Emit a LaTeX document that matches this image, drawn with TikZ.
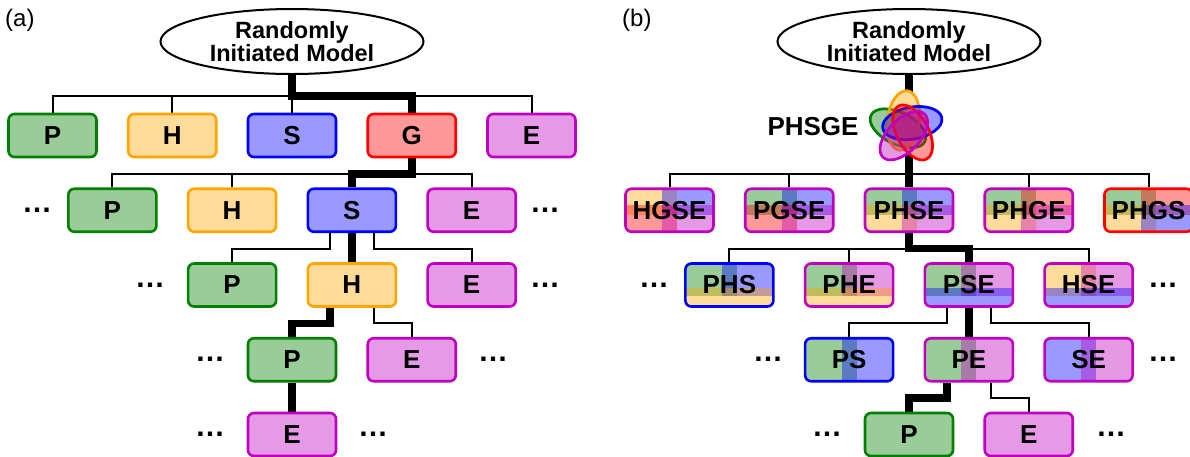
\documentclass[tikz,border=0pt]{standalone}
\usepackage{fontspec}
\setmainfont{Liberation Sans}
\usetikzlibrary{shapes.geometric,backgrounds}

\definecolor{cP}{RGB}{0,128,0}
\definecolor{cH}{RGB}{255,165,0}
\definecolor{cS}{RGB}{0,0,255}
\definecolor{cG}{RGB}{255,0,0}
\definecolor{cE}{RGB}{192,0,192}

\tikzset{
  conn/.style={line width=2pt},
  hot/.style={line width=7.5pt, line join=miter},
  root/.style={draw, ellipse, line width=2pt, minimum width=263pt, minimum height=65pt, inner sep=0pt},
  roottxt/.style={align=center, inner sep=0pt, font=\fontsize{23.5}{22.5}\selectfont\bfseries},
  cbox/.style={rectangle, rounded corners=6pt, minimum width=88pt, minimum height=43pt,
               line width=2.6pt, inner sep=0pt, font=\fontsize{26}{26}\selectfont\bfseries},
  pbox/.style={cbox, draw=#1, fill=#1!40},
  more/.style={anchor=base, inner sep=0pt, font=\fontsize{30}{30}\selectfont\bfseries},
  panel/.style={anchor=base west, inner sep=0pt, font=\fontsize{24}{24}\selectfont},
  patch/.style={fill=#1, fill opacity=.4},
}

% box made of four translucent quarters: TL, BL, TR, BR
\newcommand{\fourbox}[9]{%
  \begin{scope}
    \clip[rounded corners=6pt] (#2-44,#3-21.5) rectangle (#2+44,#3+21.5);
    \fill[patch=#4] (#2-44,#3-21.5) rectangle (#2+7.5,#3+5);
    \fill[patch=#6] (#2-7.5,#3-21.5) rectangle (#2+44,#3+5);
    \fill[patch=#5] (#2-44,#3-5) rectangle (#2+7.5,#3+21.5);
    \fill[patch=#7] (#2-7.5,#3-5) rectangle (#2+44,#3+21.5);
  \end{scope}
  \node[cbox, draw=#8] (#1) at (#2,#3) {#9};}

% box with two upper halves and a bottom strip: TL, TR, bottom
\newcommand{\threebox}[8]{%
  \begin{scope}
    \clip[rounded corners=6pt] (#2-44,#3-21.5) rectangle (#2+44,#3+21.5);
    \fill[patch=#4] (#2-44,#3-21.5) rectangle (#2+7.5,#3+11);
    \fill[patch=#5] (#2-7.5,#3-21.5) rectangle (#2+44,#3+11);
    \fill[patch=#6] (#2-44,#3+2.5) rectangle (#2+44,#3+21.5);
  \end{scope}
  \node[cbox, draw=#7] (#1) at (#2,#3) {#8};}

% box split into a left and a right half
\newcommand{\twobox}[7]{%
  \begin{scope}
    \clip[rounded corners=6pt] (#2-44,#3-21.5) rectangle (#2+44,#3+21.5);
    \fill[patch=#4] (#2-44,#3-21.5) rectangle (#2+7.5,#3+21.5);
    \fill[patch=#5] (#2-7.5,#3-21.5) rectangle (#2+44,#3+21.5);
  \end{scope}
  \node[cbox, draw=#6] (#1) at (#2,#3) {#7};}

\begin{document}
\begin{tikzpicture}[x=1pt, y=-1pt]
\useasboundingbox (0,0) rectangle (1190,456);
\begin{pgfonlayer}{background}
  \fill[white] (0,0) rectangle (1190,456);
\end{pgfonlayer}

% ---------------- panel (a): sequential search ----------------
\node[panel] (la) at (5,26) {(a)};
\node[root] (ra) at (292,41.5) {};
\node[roottxt] (rat) at (ra.center) {Randomly\\Initiated Model};

\node[pbox=cP] (a1p) at (52.5,135.5) {P};
\node[pbox=cH] (a1h) at (172.25,135.5) {H};
\node[pbox=cS] (a1s) at (292,135.5) {S};
\node[pbox=cG] (a1g) at (411.75,135.5) {G};
\node[pbox=cE] (a1e) at (531.5,135.5) {E};

\node[pbox=cP] (a2p) at (112.375,210.25) {P};
\node[pbox=cH] (a2h) at (232.125,210.25) {H};
\node[pbox=cS] (a2s) at (351.875,210.25) {S};
\node[pbox=cE] (a2e) at (471.625,210.25) {E};

\node[pbox=cP] (a3p) at (232.125,285) {P};
\node[pbox=cH] (a3h) at (351.875,285) {H};
\node[pbox=cE] (a3e) at (471.625,285) {E};

\node[pbox=cP] (a4p) at (292,359.75) {P};
\node[pbox=cE] (a4e) at (411.75,359.75) {E};

\node[pbox=cE] (a5e) at (292,434.5) {E};

\node[more] (ad2l) at (37,212.35) {…};
\node[more] (ad2r) at (545,212.35) {…};
\node[more] (ad3l) at (150,287.1) {…};
\node[more] (ad3r) at (545,287.1) {…};
\node[more] (ad4l) at (210,361.85) {…};
\node[more] (ad4r) at (493,361.85) {…};
\node[more] (ad5l) at (210,436.6) {…};
\node[more] (ad5r) at (373,436.6) {…};

\begin{pgfonlayer}{background}
  \foreach \n in {a1p,a1h,a1s,a1e}
    \draw[conn] (ra.south) -- ++(0,21) -| (\n.north);
  \draw[hot] (ra.south) -- ++(0,21) -| (a1g.north);

  \foreach \n in {a2p,a2h,a2e}
    \draw[conn] (a1g.south) -- ++(0,15.5) -| (\n.north);
  \draw[hot] (a1g.south) -- ++(0,15.5) -| (a2s.north);

  \draw[conn] ([xshift=-22pt]a2s.south) -- ++(0,15.5) -| (a3p.north);
  \draw[conn] ([xshift=22pt]a2s.south) -- ++(0,15.5) -| (a3e.north);
  \draw[hot] (a2s.south) -- (a3h.north);

  \draw[hot] ([xshift=-22pt]a3h.south) -- ++(0,15.5) -| (a4p.north);
  \draw[conn] ([xshift=22pt]a3h.south) -- ++(0,15.5) -| (a4e.north);

  \draw[hot] (a4p.south) -- (a5e.north);
\end{pgfonlayer}

% ---------------- panel (b): combined search ----------------
\node[panel] (lb) at (622,26) {(b)};
\node[root] (rb) at (909,41.5) {};
\node[roottxt] (rbt) at (rb.center) {Randomly\\Initiated Model};

% five-set flower of all components
\coordinate (fl) at (906,128);
\foreach \ang in {182,110,38,326,254}
  \fill[white, shift={({906+8*cos(\ang)},{128-8*sin(\ang)})}, rotate=\ang-28]
    (0,0) ellipse [x radius=30, y radius=16];
\foreach \col/\ang in {cP/182,cH/110,cS/38,cG/326,cE/254}
  \draw[\col, fill=\col, fill opacity=.4, line width=2.7pt,
        shift={({906+8*cos(\ang)},{128-8*sin(\ang)})}, rotate=\ang-28]
    (0,0) ellipse [x radius=30, y radius=16];
\node[font=\fontsize{26}{26}\selectfont\bfseries, inner sep=0pt] (fll) at (813,127) {PHSGE};

\fourbox{b1a}{669.5}{210.25}{cH}{cG}{cS}{cE}{cE}{HGSE}
\fourbox{b1b}{789.25}{210.25}{cP}{cG}{cS}{cE}{cE}{PGSE}
\fourbox{b1c}{909}{210.25}{cP}{cH}{cS}{cE}{cE}{PHSE}
\fourbox{b1d}{1028.75}{210.25}{cP}{cH}{cG}{cE}{cE}{PHGE}
\fourbox{b1e}{1148.5}{210.25}{cP}{cH}{cG}{cS}{cG}{PHGS}

\threebox{b2a}{729.375}{285}{cP}{cS}{cH}{cS}{PHS}
\threebox{b2b}{849.125}{285}{cP}{cE}{cH}{cE}{PHE}
\threebox{b2c}{968.875}{285}{cP}{cE}{cS}{cE}{PSE}
\threebox{b2d}{1088.625}{285}{cH}{cE}{cS}{cE}{HSE}

\twobox{b3a}{849.125}{359.75}{cP}{cS}{cS}{PS}
\twobox{b3b}{968.875}{359.75}{cP}{cE}{cE}{PE}
\twobox{b3c}{1088.625}{359.75}{cS}{cE}{cE}{SE}

\node[pbox=cP] (b4p) at (909,434.5) {P};
\node[pbox=cE] (b4e) at (1028.75,434.5) {E};

\node[more] (bd2l) at (654,287.1) {…};
\node[more] (bd2r) at (1163,287.1) {…};
\node[more] (bd3l) at (768,361.85) {…};
\node[more] (bd3r) at (1163,361.85) {…};
\node[more] (bd4l) at (827,436.6) {…};
\node[more] (bd4r) at (1111,436.6) {…};

\begin{pgfonlayer}{background}
  \foreach \n in {b1a,b1b,b1d,b1e}
    \draw[conn] (rb.south) -- ++(0,98.75) -| (\n.north);
  \draw[hot] (rb.south) -- (b1c.north);

  \foreach \n in {b2a,b2b,b2d}
    \draw[conn] (b1c.south) -- ++(0,15.5) -| (\n.north);
  \draw[hot] (b1c.south) -- ++(0,15.5) -| (b2c.north);

  \draw[conn] ([xshift=-22pt]b2c.south) -- ++(0,15.5) -| (b3a.north);
  \draw[conn] ([xshift=22pt]b2c.south) -- ++(0,15.5) -| (b3c.north);
  \draw[hot] (b2c.south) -- (b3b.north);

  \draw[hot] ([xshift=-22pt]b3b.south) -- ++(0,15.5) -| (b4p.north);
  \draw[conn] ([xshift=22pt]b3b.south) -- ++(0,15.5) -| (b4e.north);
\end{pgfonlayer}
\end{tikzpicture}
\end{document}
